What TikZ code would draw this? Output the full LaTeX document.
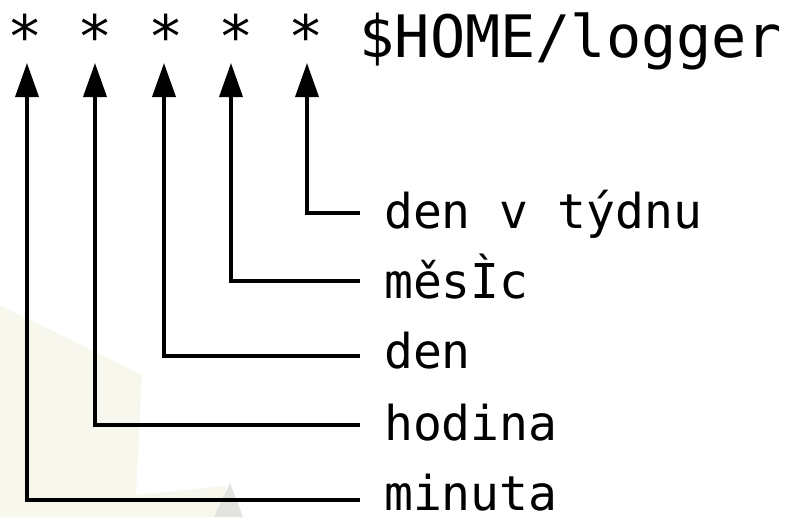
\documentclass[tikz,border=0pt]{standalone}
\usepackage{fontspec}
\usetikzlibrary{arrows.meta}
\newfontfamily\dmono{DejaVu Sans Mono}
\definecolor{wmbeige}{HTML}{F7F7EE}
\definecolor{wmgrey}{HTML}{E3E3DF}
\tikzset{
  toptext/.style={inner sep=0pt, font=\dmono\fontsize{58.5}{60}\selectfont},
  labeltext/.style={inner sep=0pt, anchor=base west, font=\dmono\fontsize{48}{50}\selectfont},
  pointer/.style={line width=3.5pt, -{Triangle[length=34pt,width=23pt]}}
}
\begin{document}
\begin{tikzpicture}[x=1pt,y=-1pt]
\useasboundingbox (0,0) rectangle (795,517);
% faint watermark
\fill[wmbeige] (0,305) -- (142,375) -- (136,495) -- (225,486) -- (225,517) -- (0,517) -- cycle;
\fill[wmgrey] (230,483) -- (243,517) -- (214,517) -- cycle;
% top line
\node[toptext, anchor=base] (a1) at (25.0,57) {*};
\node[toptext, anchor=base] (a2) at (95.4,57) {*};
\node[toptext, anchor=base] (a3) at (165.8,57) {*};
\node[toptext, anchor=base] (a4) at (236.2,57) {*};
\node[toptext, anchor=base] (a5) at (306.6,57) {*};
\node[toptext, anchor=base west] (cmd) at (359.4,57) {\$HOME/logger};
% labels
\node[labeltext] (l5) at (384,228) {den v týdnu};
\node[labeltext] (l4) at (384,298) {měsÌc};
\node[labeltext] (l3) at (384,368) {den};
\node[labeltext] (l2) at (384,440) {hodina};
\node[labeltext, text depth=0pt] (l1) at (384,510) {minuta};
% connector ends
\coordinate (e5) at (360,213);
\coordinate (e4) at (360,281);
\coordinate (e3) at (360,356);
\coordinate (e2) at (360,425);
\coordinate (e1) at (360,500);
\coordinate (t5) at (307,63);
\coordinate (t4) at (231,63);
\coordinate (t3) at (164,63);
\coordinate (t2) at (95,63);
\coordinate (t1) at (27,63);
\draw[pointer] (e5) -| (t5);
\draw[pointer] (e4) -| (t4);
\draw[pointer] (e3) -| (t3);
\draw[pointer] (e2) -| (t2);
\draw[pointer] (e1) -| (t1);
\end{tikzpicture}
\end{document}
